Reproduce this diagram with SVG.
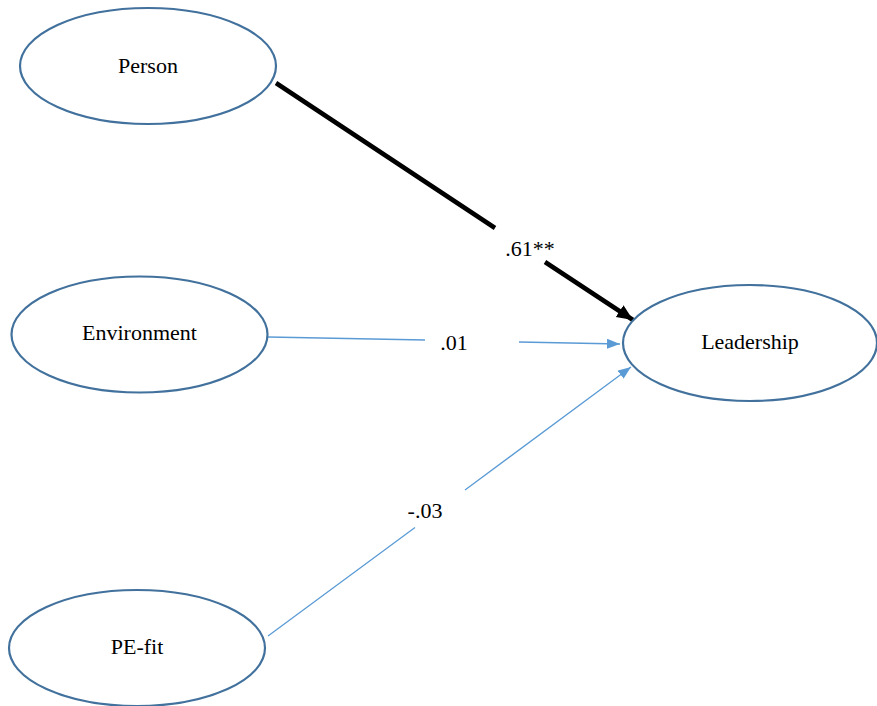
<svg xmlns="http://www.w3.org/2000/svg" width="877" height="706" viewBox="0 0 877 706">
<style>
.node{fill:#fff;stroke:#41719C;stroke-width:2.2}
.t{font-family:"Liberation Serif","Times New Roman",serif;font-size:22px;fill:#000;text-anchor:middle}
.thick{fill:none;stroke:#000;stroke-width:4.5}
.thin{fill:none;stroke:#5B9BD5;stroke-width:1.3}
</style>
<defs>
<marker id="ab" markerUnits="userSpaceOnUse" markerWidth="18" markerHeight="16" refX="16" refY="8" orient="auto" viewBox="0 0 18 16">
<path d="M0,1 L16,8 L0,15 Z" fill="#000"/>
</marker>
<marker id="au" markerUnits="userSpaceOnUse" markerWidth="14" markerHeight="10" refX="13" refY="5" orient="auto" viewBox="0 0 14 10">
<path d="M0,0 L13,5 L0,10 Z" fill="#5B9BD5"/>
</marker>
</defs>
<rect width="877" height="706" fill="#fff"/>
<g id="connectors">
<path class="thick" d="M276,83 L495,228 M545,262 L633,320" marker-end="url(#ab)"/>
<path class="thin" d="M268,337 L425,340 M519,342 L620,344" marker-end="url(#au)"/>
<path class="thin" d="M268,636 L415,527.5 M465,490 L631,367" marker-end="url(#au)"/>
<text class="t" x="530" y="256">.61**</text>
<text class="t" x="454" y="350">.01</text>
<text class="t" x="425" y="518">-.03</text>
</g>
<g id="person">
<ellipse class="node" cx="148" cy="66" rx="128" ry="58"/>
<text class="t" x="148" y="73">Person</text>
</g>
<g id="environment">
<ellipse class="node" cx="139.5" cy="334.5" rx="128" ry="58"/>
<text class="t" x="139.5" y="340">Environment</text>
</g>
<g id="pefit">
<ellipse class="node" cx="137" cy="648" rx="128" ry="58"/>
<text class="t" x="137" y="654">PE-fit</text>
</g>
<g id="leadership">
<ellipse class="node" cx="750" cy="343" rx="127" ry="58"/>
<text class="t" x="750" y="349">Leadership</text>
</g>
</svg>
